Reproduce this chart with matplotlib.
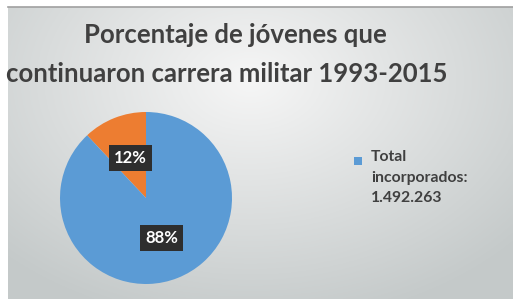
import numpy as np
import matplotlib
matplotlib.use("Agg")
import matplotlib.pyplot as plt
from matplotlib.patches import Rectangle

title_lines = ["Porcentaje de jóvenes que", "continuaron carrera militar 1993-2015"]
labels = ["Continuaron carrera militar", "Total incorporados"]
values = [12, 88]
colors = ["#ED7D31", "#5B9BD5"]
legend_text = "Total\nincorporados:\n1.492.263"

plt.rcParams['font.family'] = ['Lato', 'DejaVu Sans']

W, H = 513, 299
fig = plt.figure(figsize=(W / 100, H / 100), dpi=100)
fig.patch.set_facecolor("white")

# gradient background (chart area)
bg = fig.add_axes([8 / W, 0, (W - 8) / W, (H - 7) / H])
yy, xx = np.mgrid[0:1:200j, 0:1:300j]
d = np.sqrt(((xx - 0.48) / 0.7) ** 2 + ((yy - 0.25) / 0.85) ** 2)
d = np.clip(d, 0, 1)
c0 = np.array([0.965, 0.965, 0.965])
c1 = np.array([0.77, 0.79, 0.79])
img = c0[None, None, :] * (1 - d[..., None]) + c1[None, None, :] * d[..., None]
bg.imshow(img, aspect="auto", extent=[0, 1, 0, 1], origin="upper")
bg.plot([0, 1], [1, 1], color="#a0a0a0", lw=1.2, transform=bg.transAxes, clip_on=False)
bg.set_axis_off()

# title, two lines placed separately
fig.text(235 / W, 1 - 43 / H, title_lines[0], ha="center", va="baseline", fontsize=18.5,
         fontweight="bold", color="#404040")
fig.text(227 / W, 1 - 82 / H, title_lines[1], ha="center", va="baseline", fontsize=18.5,
         fontweight="bold", color="#404040")

# pie
cx, cy, r = 146, 198, 86
ax = fig.add_axes([(cx - r) / W, (H - cy - r) / H, 2 * r / W, 2 * r / H])
wedges, texts, autotexts = ax.pie(values, colors=colors, startangle=90, counterclock=True,
                                  autopct="%d%%", pctdistance=0.5, radius=1,
                                  wedgeprops=dict(linewidth=0))
for t in autotexts:
    t.set_color("white")
    t.set_fontweight("bold")
    t.set_fontsize(12)
    t.set_bbox(dict(boxstyle="square,pad=0.3", facecolor="#2e2e2e", edgecolor="none"))
ax.set_xlim(-1, 1)
ax.set_ylim(-1, 1)
ax.set_aspect("equal")

# legend
fig.patches.append(Rectangle((354 / W, 1 - 165 / H), 8 / W, 8 / H, transform=fig.transFigure,
                             facecolor=colors[1], edgecolor="none"))
fig.text(371 / W, 1 - 150 / H, legend_text, ha="left", va="top", fontsize=11.3,
         fontweight="bold", color="#404040", linespacing=1.6)

fig.savefig("out.png", dpi=100)
